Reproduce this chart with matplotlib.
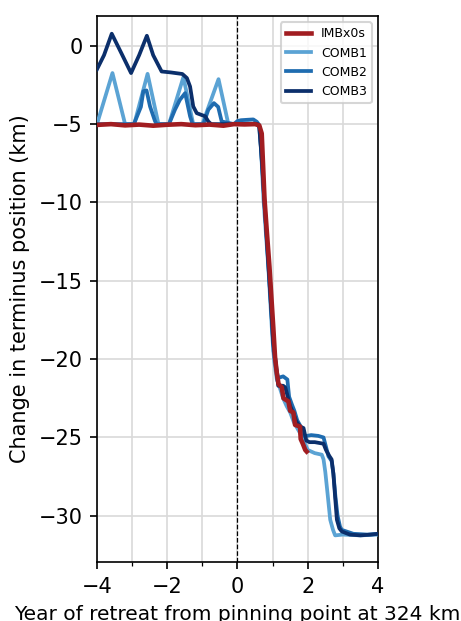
import numpy as np
import matplotlib
matplotlib.use("Agg")
import matplotlib.pyplot as plt
from matplotlib.ticker import MultipleLocator

# terminus position change (km) vs year relative to pinning point
imb_years = [-4.0, -3.6, -3.2, -2.8, -2.4, -2.0, -1.6, -1.2, -0.8, -0.4, -0.1,
             0.2, 0.5, 0.62, 0.69, 0.77, 0.84, 0.91, 1.02, 1.07, 1.12, 1.17,
             1.26, 1.31, 1.45, 1.50, 1.59, 1.64, 1.78, 1.80, 1.86, 1.93, 1.97]
imb_vals = [-5.05, -5.0, -5.08, -5.03, -5.1, -5.04, -5.0, -5.07, -5.03, -5.1,
            -5.0, -5.02, -5.0, -5.08, -5.6, -9.8, -12.0, -14.1, -18.0, -19.9,
            -20.9, -21.6, -21.8, -22.5, -22.7, -23.3, -23.4, -24.2, -24.3,
            -25.1, -25.4, -25.8, -25.9]

comb1_years = [-4.0, -3.56, -3.2, -2.94, -2.56, -2.25, -1.95, -1.54, -1.26,
               -1.0, -0.54, -0.26, 0.0, 0.3, 0.58, 0.62, 0.67, 0.74, 0.88,
               0.99, 1.04, 1.12, 1.2, 1.3, 1.4, 1.5, 1.6, 1.7, 1.8, 1.9, 2.0,
               2.2, 2.4, 2.45, 2.5, 2.57, 2.64, 2.72, 2.78, 3.0, 3.5, 4.0]
comb1_vals = [-5.0, -1.74, -5.0, -5.0, -1.79, -5.0, -5.0, -2.0, -5.0, -5.0,
              -2.13, -5.0, -4.98, -4.95, -5.0, -5.2, -6.5, -9.8, -14.2, -18.5,
              -20.0, -21.3, -21.8, -22.5, -23.0, -23.4, -24.0, -24.4, -24.8,
              -25.3, -25.8, -26.0, -26.1, -26.4, -27.2, -28.7, -30.25, -30.9,
              -31.25, -31.2, -31.25, -31.2]

comb2_years = [-4.0, -2.95, -2.75, -2.68, -2.59, -2.49, -2.35, -2.30, -1.95,
               -1.78, -1.64, -1.49, -1.35, -1.28, -0.97, -0.83, -0.67, -0.55,
               -0.45, -0.1, 0.0, 0.1, 0.3, 0.45, 0.55, 0.6, 0.63, 0.71, 0.85,
               0.97, 1.03, 1.1, 1.16, 1.3, 1.42, 1.47, 1.55, 1.62, 1.7, 1.8,
               1.9, 1.97, 2.1, 2.3, 2.45, 2.52, 2.59, 2.68, 2.73, 2.79, 2.85,
               2.92, 2.97, 3.3, 3.7, 4.0]
comb2_vals = [-5.0, -5.0, -3.9, -2.9, -2.85, -3.87, -4.8, -5.0, -5.0, -4.08,
              -3.45, -3.02, -4.5, -5.0, -5.0, -4.08, -3.66, -3.9, -4.83, -5.0,
              -4.8, -4.75, -4.72, -4.7, -4.85, -5.0, -5.2, -8.0, -13.0, -17.2,
              -19.5, -20.6, -21.2, -21.1, -21.3, -22.4, -22.9, -23.3, -23.9,
              -24.3, -24.9, -24.9, -24.85, -24.9, -25.0, -25.6, -26.2, -26.5,
              -27.3, -28.8, -30.0, -30.7, -30.9, -31.15, -31.2, -31.15]

comb3_years = [-4.0, -3.8, -3.58, -3.3, -3.03, -2.8, -2.58, -2.4, -2.16, -1.9,
               -1.57, -1.44, -1.35, -1.26, -1.16, -0.92, -0.83, -0.75, -0.5,
               -0.2, 0.0, 0.3, 0.58, 0.62, 0.7, 0.84, 0.96, 1.02, 1.09, 1.16,
               1.3, 1.36, 1.42, 1.5, 1.6, 1.68, 1.78, 1.88, 1.96, 2.05, 2.2,
               2.45, 2.52, 2.62, 2.68, 2.73, 2.78, 2.83, 2.90, 2.97, 3.2, 3.5,
               3.8, 4.0]
comb3_vals = [-1.5, -0.6, 0.77, -0.5, -1.74, -0.6, 0.64, -0.6, -1.64, -1.7,
              -1.8, -2.06, -2.6, -3.87, -4.3, -4.5, -4.83, -5.0, -5.0, -5.0,
              -5.0, -4.98, -5.0, -5.2, -7.5, -12.5, -16.8, -19.0, -20.2, -21.7,
              -21.7, -21.8, -22.3, -23.0, -23.5, -24.0, -24.3, -24.4, -25.2,
              -25.3, -25.3, -25.4, -25.8, -26.2, -26.4, -27.3, -28.8, -30.25,
              -30.8, -31.0, -31.2, -31.25, -31.2, -31.15]

fig = plt.figure(figsize=(461 / 150, 621 / 150), dpi=150)
ax = fig.add_axes([0.2104, 0.095, 0.6095, 0.8792])

ax.plot(imb_years, imb_vals, color="#a11d21", lw=2.2, label="IMBx0s", zorder=5)
ax.plot(comb1_years, comb1_vals, color="#5ba3d4", lw=1.8, label="COMB1", zorder=3)
ax.plot(comb2_years, comb2_vals, color="#1f6cb0", lw=1.8, label="COMB2", zorder=3)
ax.plot(comb3_years, comb3_vals, color="#0b2f6b", lw=1.8, label="COMB3", zorder=4)

ax.axvline(0, color="k", ls="--", lw=0.6, zorder=2)

ax.set_xlim(-4, 4)
ax.set_ylim(-32.95, 1.9)
ax.xaxis.set_major_locator(MultipleLocator(2))
ax.xaxis.set_minor_locator(MultipleLocator(1))
ax.yaxis.set_major_locator(MultipleLocator(5))
ax.grid(which="both", axis="x", color="#d9d9d9", lw=0.8)
ax.grid(which="major", axis="y", color="#d9d9d9", lw=0.8)
ax.set_axisbelow(True)

ax.set_xlabel("Year of retreat from pinning point at 324 km", fontsize=9.7)
ax.set_ylabel("Change in terminus position (km)", fontsize=10)
ax.tick_params(labelsize=10)
ax.legend(loc="upper right", fontsize=6)

fig.savefig("out.png", dpi=150)
